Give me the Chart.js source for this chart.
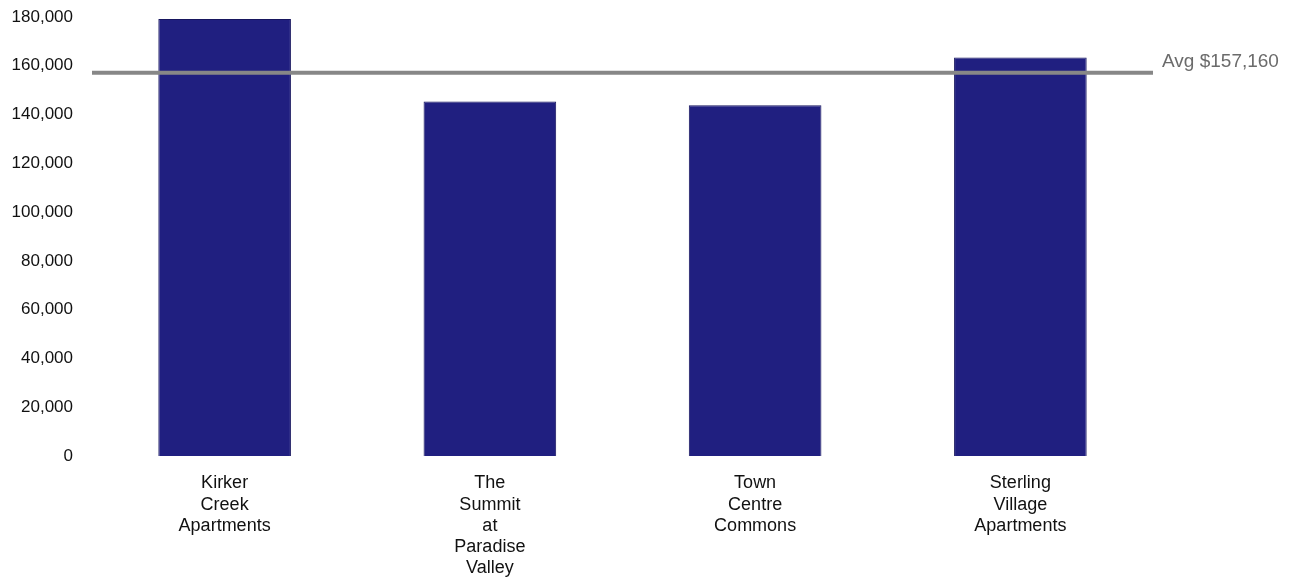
<!DOCTYPE html>
<html lang="en">
<head>
    <meta charset="UTF-8">
    <title>Average Rent Comparison</title>
    <script src="https://cdn.jsdelivr.net/npm/chart.js"></script>
    <style>
        html, body { margin: 0; padding: 0; background: #ffffff; }
        #wrap { width: 1290px; height: 577px; }
    </style>
</head>
<body>
    <div id="wrap"><canvas id="rentChart" width="1290" height="577"></canvas></div>

    <script>
        // data
        const properties = [
            ['Kirker', 'Creek', 'Apartments'],
            ['The', 'Summit', 'at', 'Paradise', 'Valley'],
            ['Town', 'Centre', 'Commons'],
            ['Sterling', 'Village', 'Apartments']
        ];
        const values = [179200, 145400, 143800, 163400];
        const avgValue = 157160;
        const avgLabel = 'Avg $157,160';
        const yTicks = [0, 20000, 40000, 60000, 80000, 100000, 120000, 140000, 160000, 180000];

        const fontFamily = '"Liberation Sans", Arial, Helvetica, sans-serif';

        // draws the average line across the plot plus its label on the right
        const avgLinePlugin = {
            id: 'avgLine',
            afterDatasetsDraw(chart) {
                const ctx = chart.ctx;
                const area = chart.chartArea;
                const y = chart.scales.y.getPixelForValue(avgValue);
                ctx.save();
                ctx.strokeStyle = '#878787';
                ctx.lineWidth = 4;
                ctx.beginPath();
                ctx.moveTo(area.left, y);
                ctx.lineTo(area.right, y);
                ctx.stroke();
                ctx.fillStyle = '#6b6b6b';
                ctx.font = '19px ' + fontFamily;
                ctx.textBaseline = 'middle';
                ctx.textAlign = 'left';
                ctx.fillText(avgLabel, area.right + 9, y - 11);
                ctx.restore();
            }
        };

        const ctx = document.getElementById('rentChart').getContext('2d');
        new Chart(ctx, {
            type: 'bar',
            data: {
                labels: properties,
                datasets: [{
                    data: values,
                    backgroundColor: '#201f80',
                    borderColor: '#17165f',
                    borderWidth: 1,
                    barPercentage: 0.5,
                    categoryPercentage: 1.0
                }]
            },
            options: {
                responsive: false,
                animation: false,
                layout: { padding: { top: 17, right: 137, bottom: 0, left: 0 } },
                scales: {
                    y: {
                        min: 0,
                        max: 180000,
                        afterFit(scale) {
                            scale.width = 92;
                            scale.paddingTop = 0;
                            scale.paddingBottom = 0;
                        },
                        afterBuildTicks(scale) {
                            scale.ticks = yTicks.map(v => ({ value: v }));
                        },
                        grid: { display: false, drawTicks: false },
                        border: { display: false },
                        ticks: {
                            padding: 19,
                            color: '#111111',
                            font: { family: fontFamily, size: 17 },
                            callback: v => v.toLocaleString('en-US')
                        }
                    },
                    x: {
                        afterFit(scale) {
                            scale.height = 121;
                            scale.paddingLeft = 0;
                            scale.paddingRight = 0;
                        },
                        grid: { display: false, drawTicks: false },
                        border: { display: false },
                        ticks: {
                            padding: 17,
                            maxRotation: 0,
                            autoSkip: false,
                            color: '#111111',
                            font: { family: fontFamily, size: 18, lineHeight: 1.17 }
                        }
                    }
                },
                plugins: {
                    legend: { display: false },
                    tooltip: { enabled: false }
                }
            },
            plugins: [avgLinePlugin]
        });
    </script>
</body>
</html>
